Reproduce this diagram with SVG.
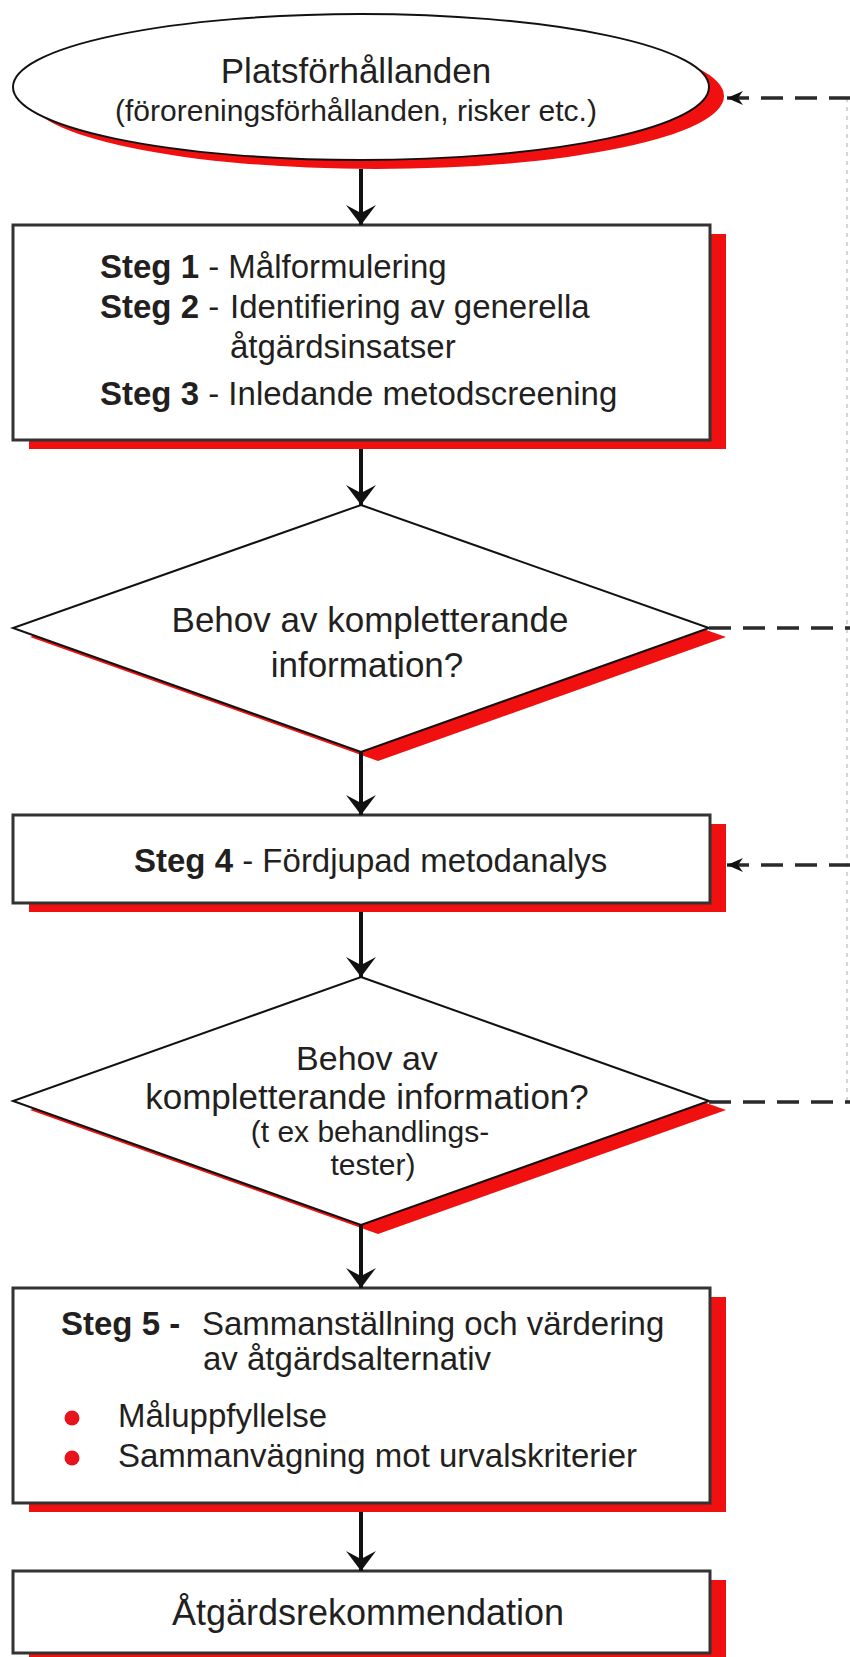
<svg xmlns="http://www.w3.org/2000/svg" width="850" height="1657" viewBox="0 0 850 1657">
<style>
.shadow{fill:#f01010}
.box{fill:#fff;stroke:#333;stroke-width:3}
.shape{fill:#fff;stroke:#111;stroke-width:2}
text{font-family:"Liberation Sans",Arial,sans-serif;fill:#231f20;font-size:33px}
.b{font-weight:bold}
.c{text-anchor:middle}
.flow{stroke:#111;stroke-width:4;fill:none;marker-end:url(#ah)}
.dash{stroke:#2a2a2a;stroke-width:3.5;stroke-dasharray:22 12;fill:none}
.dashin{marker-start:url(#ahs)}
.faint{stroke:#c8c8c8;stroke-width:1.5;stroke-dasharray:4 5;fill:none}
.dot{fill:#e8141c}
</style>
<defs>
<marker id="ah" viewBox="0 0 20 30" markerWidth="20" markerHeight="30" refX="20" refY="15" orient="auto" markerUnits="userSpaceOnUse">
<path d="M20,15 L0,0 L8,15 L0,30 Z" fill="#111"/>
</marker>
<marker id="ahs" viewBox="0 0 16 14" markerWidth="16" markerHeight="14" refX="16" refY="7" orient="auto-start-reverse" markerUnits="userSpaceOnUse">
<path d="M16,7 L0,0 L5,7 L0,14 Z" fill="#111"/>
</marker>
</defs>
<rect width="850" height="1657" fill="#fff"/>

<g id="node-platsforhallanden">
<ellipse class="shadow" cx="376" cy="96" rx="348" ry="73"/>
<ellipse class="shape" cx="361" cy="87" rx="348" ry="73"/>
<text class="c" x="356" y="83" style="font-size:35px">Platsförhållanden</text>
<text class="c" x="356" y="121" style="font-size:30px">(föroreningsförhållanden, risker etc.)</text>
</g>

<g id="node-steg1-3">
<rect class="shadow" x="29" y="234" width="697" height="215"/>
<rect class="box" x="13" y="225" width="697" height="215"/>
<text x="100" y="278"><tspan class="b">Steg 1</tspan> - Målformulering</text>
<text x="100" y="318"><tspan class="b">Steg 2</tspan> -</text>
<text x="230" y="318">Identifiering av generella</text>
<text x="230" y="358">åtgärdsinsatser</text>
<text x="100" y="405"><tspan class="b">Steg 3</tspan> - Inledande metodscreening</text>
</g>

<g id="node-behov1">
<polygon class="shadow" points="378,514 726,637 378,761 30,637"/>
<polygon class="shape" points="361,505 709,628 361,752 13,628"/>
<text class="c" x="370" y="632" style="font-size:35px">Behov av kompletterande</text>
<text class="c" x="367" y="677" style="font-size:35px">information?</text>
</g>

<g id="node-steg4">
<rect class="shadow" x="29" y="824" width="697" height="88"/>
<rect class="box" x="13" y="815" width="697" height="88"/>
<text x="134" y="872"><tspan class="b">Steg 4</tspan> - Fördjupad metodanalys</text>
</g>

<g id="node-behov2">
<polygon class="shadow" points="378,986 726,1110 378,1234 30,1110"/>
<polygon class="shape" points="361,977 709,1101 361,1225 13,1101"/>
<text class="c" x="367" y="1070" style="font-size:34px">Behov av</text>
<text class="c" x="367" y="1109" style="font-size:35px">kompletterande information?</text>
<text class="c" x="370" y="1142" style="font-size:30px">(t ex behandlings-</text>
<text class="c" x="373" y="1175" style="font-size:30px">tester)</text>
</g>

<g id="node-steg5">
<rect class="shadow" x="29" y="1297" width="697" height="215"/>
<rect class="box" x="13" y="1288" width="697" height="215"/>
<text x="61" y="1335" class="b">Steg 5 -</text>
<text x="202" y="1335">Sammanställning och värdering</text>
<text x="203" y="1370">av åtgärdsalternativ</text>
<circle class="dot" cx="72" cy="1418" r="7.5"/>
<text x="118" y="1427">Måluppfyllelse</text>
<circle class="dot" cx="72" cy="1458" r="7.5"/>
<text x="118" y="1467">Sammanvägning mot urvalskriterier</text>
</g>

<g id="node-atgardsrekommendation">
<rect class="shadow" x="29" y="1580" width="697" height="82"/>
<rect class="box" x="13" y="1571" width="697" height="82"/>
<text class="c" x="368" y="1625" style="font-size:36px">Åtgärdsrekommendation</text>
</g>

<g id="connectors">
<line class="flow" x1="361" y1="169" x2="361" y2="225"/>
<line class="flow" x1="361" y1="449" x2="361" y2="505"/>
<line class="flow" x1="361" y1="752" x2="361" y2="815"/>
<line class="flow" x1="361" y1="912" x2="361" y2="977"/>
<line class="flow" x1="361" y1="1225" x2="361" y2="1288"/>
<line class="flow" x1="361" y1="1512" x2="361" y2="1571"/>
<path class="faint" d="M847,98 V1102"/>
<path class="dash dashin" d="M727,98 H850"/>
<path class="dash" d="M709,628 H850"/>
<path class="dash dashin" d="M727,865 H850"/>
<path class="dash" d="M709,1102 H850"/>
</g>
</svg>
